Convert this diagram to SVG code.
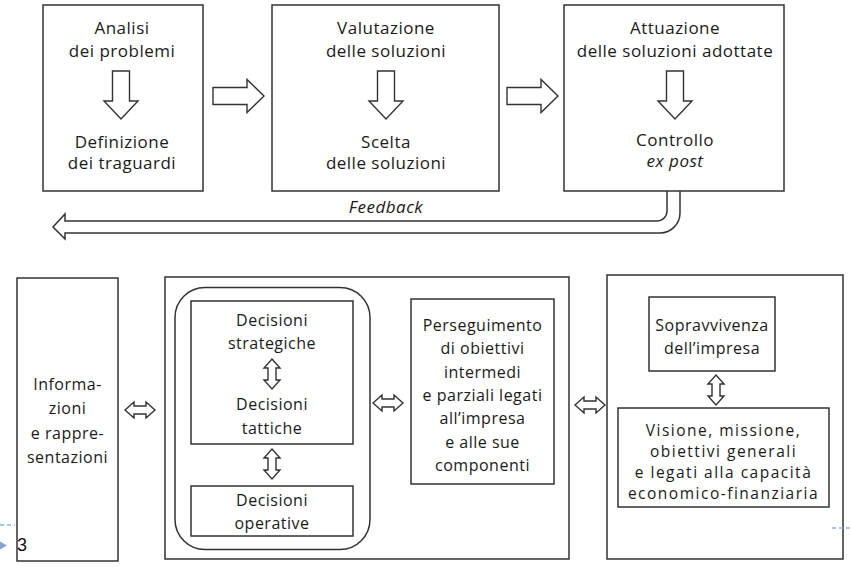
<svg xmlns="http://www.w3.org/2000/svg" width="851" height="567" viewBox="0 0 851 567">
<style>
.box{fill:none;stroke:#333;stroke-width:1.5}
.arr{fill:#fff;stroke:#333;stroke-width:1.4;stroke-linejoin:miter}
.ln{fill:none;stroke:#333;stroke-width:1.5}
text{font-family:"Open Sans","DejaVu Sans",sans-serif;fill:#1a1a1a;text-anchor:middle}
.t1{font-size:17px;letter-spacing:0.5px}
.t2{font-size:16px;letter-spacing:0.5px}
.t3{font-size:15.5px;letter-spacing:1.5px}
.it{font-style:italic}
.blue{fill:none;stroke:#8fb4de;stroke-width:1.3;stroke-dasharray:4 3}
</style>
<defs>
<path id="down" d="M-8.5,0 H8.5 V30 H17 L0,48 L-17,30 H-8.5 Z"/>
<path id="right" d="M0,-8.5 H34 V-16.5 L51,0 L34,16.5 V8.5 H0 Z"/>
<path id="hdbl" d="M-15,0 L-6,-8 V-4 H6 V-8 L15,0 L6,8 V4 H-6 V8 Z"/>
<path id="vdbl" d="M0,-15 L8,-6 H4 V6 H8 L0,15 L-8,6 H-4 V-6 H-8 Z"/>
</defs>
<rect width="851" height="567" fill="#fff"/>

<g id="n-analisi">
<rect class="box" x="43" y="5" width="160" height="186"/>
<text class="t1" x="122" y="34">Analisi</text>
<text class="t1" x="122" y="56.5">dei problemi</text>
<use href="#down" class="arr" x="121" y="71"/>
<text class="t1" x="122" y="148">Definizione</text>
<text class="t1" x="122" y="169">dei traguardi</text>
</g>

<g id="n-valutazione">
<rect class="box" x="272" y="5" width="227" height="186"/>
<text class="t1" x="386" y="34">Valutazione</text>
<text class="t1" x="386" y="56.5">delle soluzioni</text>
<use href="#down" class="arr" x="386" y="71"/>
<text class="t1" x="386" y="148">Scelta</text>
<text class="t1" x="386" y="169">delle soluzioni</text>
</g>

<g id="n-attuazione">
<rect class="box" x="564" y="5" width="220" height="186"/>
<text class="t1" x="675" y="34">Attuazione</text>
<text class="t1" x="675" y="56.5">delle soluzioni adottate</text>
<use href="#down" class="arr" x="675" y="71"/>
<text class="t1" x="675" y="146">Controllo</text>
<text class="t1 it" x="675" y="167">ex post</text>
</g>

<g id="n-info">
<rect class="box" x="17" y="278" width="101" height="283"/>
<text class="t2" x="67.5" y="390">Informa-</text>
<text class="t2" x="67.5" y="414">zioni</text>
<text class="t2" x="67.5" y="438.5">e rappre-</text>
<text class="t2" x="67.5" y="463">sentazioni</text>
</g>

<g id="n-decisioni">
<rect class="box" x="165" y="277" width="404" height="282"/>
<rect class="box" x="175" y="287.5" width="195" height="262" rx="30" ry="30"/>
</g>

<g id="n-strat">
<rect class="box" x="191" y="301" width="162" height="143"/>
<text class="t2" x="272" y="326">Decisioni</text>
<text class="t2" x="272" y="349">strategiche</text>
<text class="t2" x="272" y="410">Decisioni</text>
<text class="t2" x="272" y="434">tattiche</text>
</g>

<g id="n-oper">
<rect class="box" x="191" y="486" width="162" height="50"/>
<text class="t2" x="272" y="506">Decisioni</text>
<text class="t2" x="272" y="529">operative</text>
</g>

<g id="n-persegui">
<rect class="box" x="411" y="299" width="143" height="185"/>
<text class="t2" x="482.5" y="331">Perseguimento</text>
<text class="t2" x="482.5" y="354">di obiettivi</text>
<text class="t2" x="482.5" y="377.5">intermedi</text>
<text class="t2" x="482.5" y="401">e parziali legati</text>
<text class="t2" x="482.5" y="424">all’impresa</text>
<text class="t2" x="482.5" y="447.5">e alle sue</text>
<text class="t2" x="482.5" y="471">componenti</text>
</g>

<g id="n-obiettivi">
<rect class="box" x="607" y="275" width="236" height="284"/>
</g>

<g id="n-sopravv">
<rect class="box" x="649" y="297" width="126" height="74"/>
<text class="t2" x="712" y="331">Sopravvivenza</text>
<text class="t2" x="712" y="354">dell’impresa</text>
</g>

<g id="n-visione">
<rect class="box" x="618" y="408" width="211" height="99"/>
<text class="t3" x="723.5" y="436">Visione, missione,</text>
<text class="t3" x="723.5" y="457">obiettivi generali</text>
<text class="t3" x="723.5" y="478">e legati alla capacità</text>
<text class="t3" x="723.5" y="499">economico-finanziaria</text>
</g>

<g id="connectors">
<use href="#right" class="arr" x="213" y="96"/>
<use href="#right" class="arr" x="507" y="96"/>
<path class="ln" d="M667,191 V211 A10,10 0 0 1 657,221 H65 V214 L53,227 L65,239 V233 H660 A20,20 0 0 0 680,213 V191"/>
<text class="t1 it" x="386" y="213">Feedback</text>
<use href="#hdbl" class="arr" x="140" y="410"/>
<use href="#hdbl" class="arr" x="388" y="403"/>
<use href="#hdbl" class="arr" x="590" y="405"/>
<use href="#vdbl" class="arr" x="272" y="374"/>
<use href="#vdbl" class="arr" x="272" y="464"/>
<use href="#vdbl" class="arr" x="716" y="390"/>
</g>

<g id="slide-marks">
<line class="blue" x1="0" y1="525" x2="15" y2="525"/>
<line class="blue" x1="832" y1="528" x2="851" y2="528"/>
<polygon points="0,541.5 7,545.5 0,549.5" fill="#7fa7d6"/>
<text x="22" y="551" style="font-family:'Liberation Sans',Arial,sans-serif;font-size:18px;fill:#111;text-anchor:middle">3</text>
</g>
</svg>
